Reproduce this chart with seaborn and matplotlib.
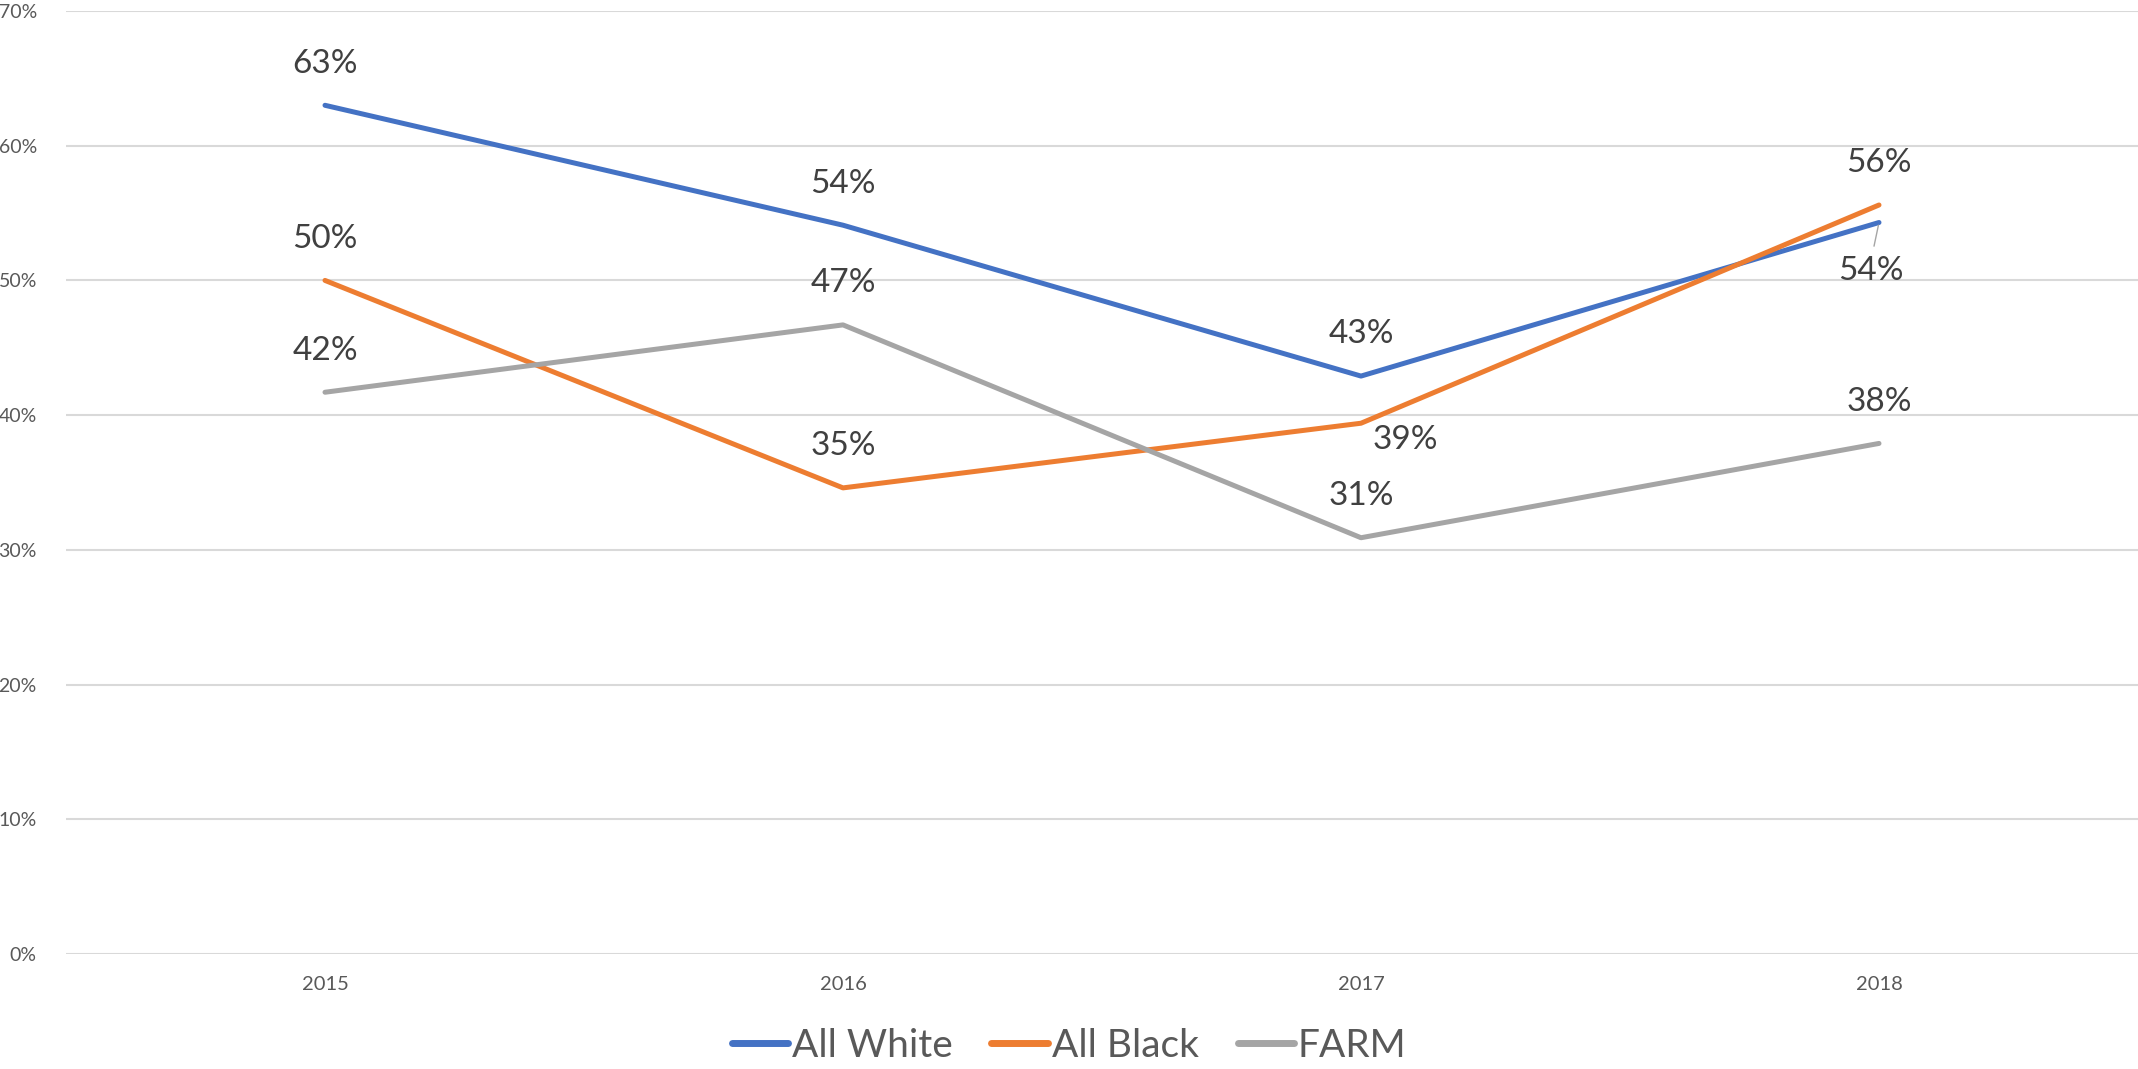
import pandas as pd
import matplotlib.pyplot as plt
import seaborn as sns

# Chart data
years = ['2015', '2016', '2017', '2018']
all_white = [0.630, 0.541, 0.429, 0.543]
all_black = [0.500, 0.346, 0.394, 0.556]
farm = [0.417, 0.467, 0.309, 0.379]
series_names = ['All White', 'All Black', 'FARM']
y_ticks = [0, 0.1, 0.2, 0.3, 0.4, 0.5, 0.6, 0.7]

df = pd.DataFrame({
    'year': years * 3,
    'value': all_white + all_black + farm,
    'group': [n for n in series_names for _ in years],
})

sns.set_theme(style='white')
plt.rcParams['font.family'] = ['Lato', 'DejaVu Sans']

palette = {'All White': '#4472C4', 'All Black': '#ED7D31', 'FARM': '#A5A5A5'}

fig = plt.figure(figsize=(21.38, 10.69), dpi=100)
ax = fig.add_axes([66 / 2138, 115 / 1069, 2072 / 2138, 943 / 1069])

sns.lineplot(data=df, x='year', y='value', hue='group', palette=palette,
             linewidth=3.6, ax=ax, legend=False, sort=False,
             solid_capstyle='round', solid_joinstyle='round', zorder=3)

ax.set_xlim(-0.5, 3.5)
ax.set_ylim(0, 0.7)
ax.set_yticks(y_ticks)
ax.set_yticklabels([f'{int(round(t * 100))}%' for t in y_ticks])
ax.grid(axis='y', color='#D9D9D9', linewidth=1.5)
ax.set_axisbelow(True)
for s in ax.spines.values():
    s.set_visible(False)
ax.tick_params(axis='y', length=0, pad=21, labelsize=14, labelcolor='#595959')
ax.tick_params(axis='x', length=0, pad=16, labelsize=14.5, labelcolor='#595959')
ax.set_xlabel('')
ax.set_ylabel('')

# data labels
label_color = '#404040'
for name, vals in zip(series_names, [all_white, all_black, farm]):
    for i, v in enumerate(vals):
        txt = f'{int(round(v * 100))}%'
        if name == 'All Black' and i == 2:
            ax.annotate(txt, (i, v), xytext=(32, -12), textcoords='offset points',
                        ha='center', va='center', fontsize=24, color=label_color)
        elif name == 'All White' and i == 3:
            ax.annotate(txt, (i, v), xytext=(-6, -35), textcoords='offset points',
                        ha='center', va='center', fontsize=24, color=label_color)
            ax.annotate('', (i, v), xytext=(-4, -19), textcoords='offset points',
                        arrowprops=dict(arrowstyle='-', color='#A5A5A5', lw=1))
        else:
            ax.annotate(txt, (i, v), xytext=(0, 30), textcoords='offset points',
                        ha='center', va='center', fontsize=24, color=label_color)

handles = [plt.Line2D([], [], color=palette[n], linewidth=5, solid_capstyle='round')
           for n in series_names]
fig.legend(handles, series_names, loc='center', bbox_to_anchor=(0.5, 1 - 1046 / 1069),
           bbox_transform=fig.transFigure, ncol=3, frameon=False, fontsize=28,
           handlelength=1.45, handletextpad=0.1, columnspacing=1.0, labelcolor='#595959')

fig.savefig('out.png', dpi=100)
